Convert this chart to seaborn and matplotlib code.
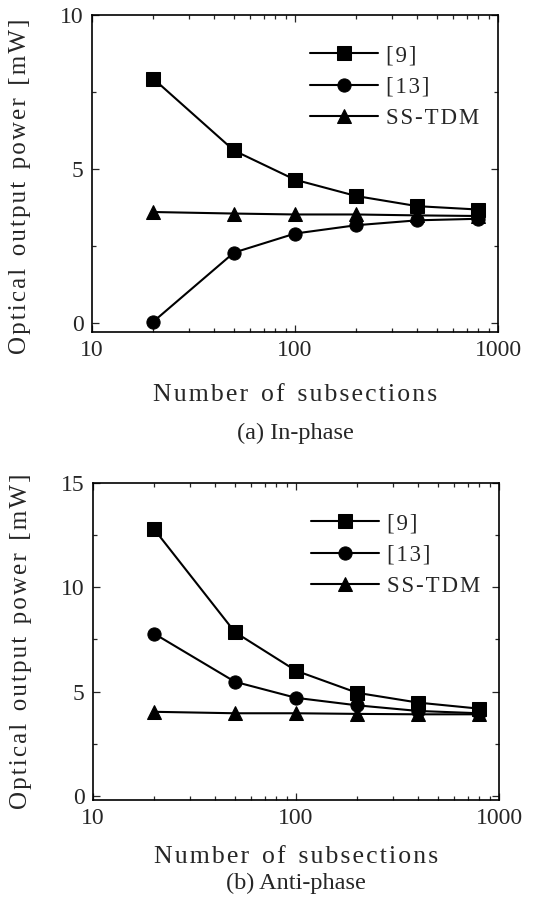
#Optical output power vs number of subsections

#importing necessary libraries
import pandas as pd
import numpy as np
import matplotlib
matplotlib.use('Agg')
import matplotlib.pyplot as plt
import seaborn as sns
from matplotlib.ticker import MultipleLocator, FixedLocator, NullFormatter, LogLocator

#data
subsections = [20, 50, 100, 200, 400, 800]
methods = ['[9]', '[13]', 'SS-TDM']

inphase_ref9 = [7.94, 5.60, 4.65, 4.12, 3.79, 3.68]
inphase_ref13 = [0.03, 2.28, 2.90, 3.17, 3.33, 3.38]
inphase_sstdm = [3.60, 3.55, 3.52, 3.52, 3.49, 3.47]

antiphase_ref9 = [12.79, 7.85, 6.00, 4.94, 4.47, 4.18]
antiphase_ref13 = [7.78, 5.47, 4.70, 4.34, 4.07, 3.96]
antiphase_sstdm = [4.03, 3.96, 3.96, 3.93, 3.91, 3.91]

captions = ['(a) In-phase', '(b) Anti-phase']

def make_df(ref9, ref13, sstdm):
    rows = []
    for name, vals in zip(methods, [ref9, ref13, sstdm]):
        for n, v in zip(subsections, vals):
            rows.append({'Subsections': n, 'Power': v, 'Method': name})
    return pd.DataFrame(rows)

df_a = make_df(inphase_ref9, inphase_ref13, inphase_sstdm)
df_b = make_df(antiphase_ref9, antiphase_ref13, antiphase_sstdm)

sns.set_style('ticks')
plt.rcParams['font.family'] = ['Liberation Serif', 'DejaVu Serif']

fig = plt.figure(figsize=(5.33, 9.13), dpi=100)
ax_a = fig.add_axes([0.1726, 0.6364, 0.762, 0.347])
ax_b = fig.add_axes([0.1745, 0.1238, 0.762, 0.347])

marker_map = {'[9]': 's', '[13]': 'o', 'SS-TDM': '^'}

def spaced(s):
    # loose letter spacing like the scanned original
    words = s.split(' ')
    return '\u2002'.join('\u200a'.join(w) for w in words)

def draw(ax, df, ylim, caption, cap_y, ylab_y, xpad):
    sns.lineplot(data=df, x='Subsections', y='Power', style='Method',
                 markers=marker_map, dashes=False, color='black',
                 linewidth=1.5, markersize=9.5, markeredgecolor='black',
                 ax=ax, legend=True)
    ax.set_xscale('log')
    ax.set_xlim(10, 1000)
    ax.set_ylim(*ylim)
    ax.xaxis.set_major_locator(FixedLocator([10, 100, 1000]))
    ax.set_xticklabels(['10', '100', '1000'])
    ax.xaxis.set_minor_locator(LogLocator(base=10, subs=np.arange(2, 10)))
    ax.xaxis.set_minor_formatter(NullFormatter())
    ax.yaxis.set_major_locator(MultipleLocator(5))
    ax.yaxis.set_minor_locator(MultipleLocator(2.5))
    ax.tick_params(which='both', direction='in', top=True, right=True,
                   labelsize=17, width=0.9)
    ax.tick_params(which='major', length=5, pad=6)
    ax.tick_params(which='minor', length=3)
    for s in ax.spines.values():
        s.set_linewidth(1.2)
        s.set_color('black')
    ax.set_xlabel(spaced('Number of subsections'), fontsize=18.5, labelpad=xpad)
    ax.set_ylabel(spaced('Optical output power [mW]'), fontsize=18)
    ax.yaxis.set_label_coords(-0.15, ylab_y)
    ax.text(0.5, cap_y, caption, transform=ax.transAxes,
            ha='center', va='center', fontsize=17.5)
    leg = ax.legend(frameon=False, loc='upper right', fontsize=16.5,
                    handlelength=3.0, handletextpad=0.35, labelspacing=0.45,
                    bbox_to_anchor=(1.005, 0.97))
    for t in leg.get_texts():
        t.set_text(spaced(t.get_text()))

draw(ax_a, df_a, (-0.3, 10), captions[0], -0.32, 0.46, 16)
draw(ax_b, df_b, (-0.2, 15), captions[1], -0.262, 0.5, 12)

plt.savefig('out.png', dpi=100)
